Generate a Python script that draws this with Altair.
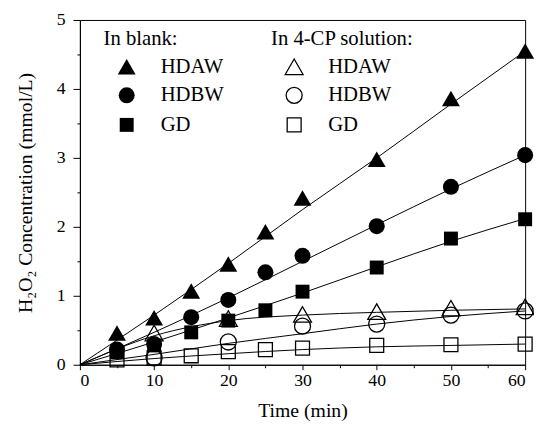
import altair as alt
import pandas as pd

FONT = "Liberation Serif"

# ---- measured points ----
series_names = ["HDAW", "HDBW", "GD"]

blank_time = [5, 10, 15, 20, 25, 30, 40, 50, 60]
blank_hdaw = [0.46, 0.68, 1.07, 1.46, 1.93, 2.42, 2.98, 3.86, 4.55]
blank_hdbw = [0.22, 0.30, 0.69, 0.94, 1.34, 1.58, 2.01, 2.58, 3.04]
blank_gd = [0.18, 0.28, 0.47, 0.64, 0.79, 1.06, 1.41, 1.83, 2.11]

cp_time_ab = [10, 20, 30, 40, 50, 60]
cp_hdaw = [0.46, 0.67, 0.73, 0.77, 0.82, 0.84]
cp_hdbw = [0.10, 0.33, 0.56, 0.59, 0.72, 0.78]
cp_time_gd = [5, 10, 15, 20, 25, 30, 40, 50, 60]
cp_gd = [0.07, 0.10, 0.13, 0.19, 0.22, 0.24, 0.28, 0.29, 0.30]

# ---- fitted curves ----
fit_time = [0, 10, 20, 30, 40, 50, 60]
fit_blank_hdaw = [0, 0.72, 1.47, 2.25, 3.00, 3.78, 4.55]
fit_blank_hdbw = [0, 0.47, 0.97, 1.50, 2.03, 2.55, 3.04]
fit_blank_gd = [0, 0.33, 0.68, 1.04, 1.42, 1.79, 2.12]
fit_cp_hdaw = [0, 0.42, 0.64, 0.72, 0.76, 0.79, 0.81]
fit_cp_hdbw = [0, 0.15, 0.31, 0.45, 0.59, 0.70, 0.78]
fit_cp_gd = [0, 0.09, 0.16, 0.22, 0.26, 0.28, 0.30]

x_major = [0, 10, 20, 30, 40, 50, 60]
x_minor = [5, 15, 25, 35, 45, 55]
y_major = [0, 1, 2, 3, 4, 5]
y_minor = [0.5, 1.5, 2.5, 3.5, 4.5]

# ---- tables ----
blank_rows = []
for name, vals in zip(series_names, [blank_hdaw, blank_hdbw, blank_gd]):
    for t, v in zip(blank_time, vals):
        blank_rows.append({"Time": t, "Conc": v, "Series": name})
blank_df = pd.DataFrame(blank_rows)

cp_rows = []
for name, times, vals in zip(series_names, [cp_time_ab, cp_time_ab, cp_time_gd], [cp_hdaw, cp_hdbw, cp_gd]):
    for t, v in zip(times, vals):
        cp_rows.append({"Time": t, "Conc": v, "Series": name})
cp_df = pd.DataFrame(cp_rows)

fit_rows = []
for curve, vals in zip(
    ["bA", "bB", "bG", "cA", "cB", "cG"],
    [fit_blank_hdaw, fit_blank_hdbw, fit_blank_gd, fit_cp_hdaw, fit_cp_hdbw, fit_cp_gd],
):
    for t, v in zip(fit_time, vals):
        fit_rows.append({"Time": t, "Conc": v, "Curve": curve})
fit_df = pd.DataFrame(fit_rows)

minor_df = pd.DataFrame({"Time": [0, 60], "Conc": [0, 5]})

xscale = alt.Scale(domain=[0, 60], nice=False, zero=False)
yscale = alt.Scale(domain=[0, 5], nice=False)

shape_range = ["triangle-up", "circle", "square"]
size_range = [330, 200, 150]

lines = alt.Chart(fit_df).mark_line(
    interpolate="monotone", color="black", strokeWidth=1
).encode(
    x=alt.X("Time:Q", scale=xscale,
            axis=alt.Axis(values=x_major, tickSize=5, labelPadding=2,
                          labelFont=FONT, titleFont=FONT,
                          title="Time (min)", titlePadding=12, orient="bottom")),
    y=alt.Y("Conc:Q", scale=yscale,
            axis=alt.Axis(values=y_major, tickSize=7, labelPadding=8,
                          labelFont=FONT, titleFont=FONT,
                          title="H\u2082O\u2082 Concentration (mmol/L)",
                          titlePadding=21, orient="left")),
    detail="Curve:N",
)


def legend(title, x):
    return alt.Legend(
        title=title, orient="none", legendX=x, legendY=8,
        titleFont=FONT, titleFontSize=21, titleFontWeight="normal",
        titleColor="black", titlePadding=8,
        labelFont=FONT, labelFontSize=21, labelColor="black",
        symbolOffset=13, labelOffset=24, rowPadding=7, padding=0,
        symbolStrokeColor="black", symbolStrokeWidth=1.3,
    )


blank_pts = alt.Chart(blank_df).mark_point(
    filled=True, color="black", opacity=1
).encode(
    x=alt.X("Time:Q", scale=xscale, axis=None),
    y=alt.Y("Conc:Q", scale=yscale, axis=None),
    shape=alt.Shape("Series:N", scale=alt.Scale(domain=series_names, range=shape_range),
                    legend=legend("In blank:", 24)),
    size=alt.Size("Series:N", scale=alt.Scale(domain=series_names, range=size_range),
                  legend=legend("In blank:", 24)),
)

cp_pts = alt.Chart(cp_df).mark_point(
    filled=False, color="black", opacity=1, strokeWidth=1.3
).encode(
    x=alt.X("Time:Q", scale=xscale, axis=None),
    y=alt.Y("Conc:Q", scale=yscale, axis=None),
    shape=alt.Shape("Series:N", scale=alt.Scale(domain=series_names, range=shape_range),
                    legend=legend("In 4-CP solution:", 194)),
    size=alt.Size("Series:N", scale=alt.Scale(domain=series_names, range=size_range),
                  legend=legend("In 4-CP solution:", 194)),
)

minor = alt.Chart(minor_df).mark_point(opacity=0).encode(
    x=alt.X("Time:Q", scale=xscale,
            axis=alt.Axis(values=x_minor, tickSize=3, labels=False, domain=False,
                          title=None, orient="bottom")),
    y=alt.Y("Conc:Q", scale=yscale,
            axis=alt.Axis(values=y_minor, tickSize=3, labels=False, domain=False,
                          title=None, orient="left")),
)

chart = alt.layer(lines, minor, blank_pts, cp_pts).resolve_scale(
    shape="independent", size="independent"
).resolve_axis(
    x="independent", y="independent"
).properties(
    width=452, height=350,
    autosize=alt.AutoSizeParams(type="none"),
    padding={"left": 73, "top": 9, "right": 9, "bottom": 58},
).configure(
    font=FONT
).configure_view(
    stroke="black", strokeWidth=1
).configure_axis(
    grid=False, domainColor="black", tickColor="black", labelColor="black",
    titleColor="black", labelFont=FONT, titleFont=FONT, labelFontSize=18,
    titleFontSize=20, titleFontWeight="normal", domainWidth=1, tickWidth=1,
).configure_legend(
    labelFont=FONT, titleFont=FONT
)

chart.save("out.html", embed_options={"renderer": "svg", "actions": False})
